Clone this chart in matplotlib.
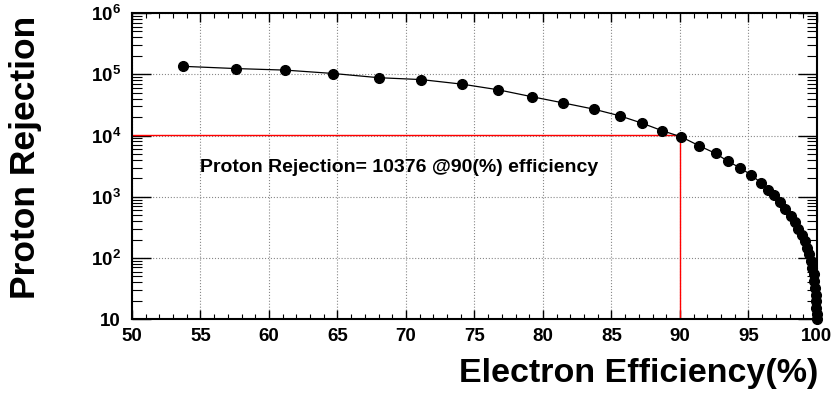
import numpy as np
import matplotlib
matplotlib.use('Agg')
import matplotlib.pyplot as plt
from matplotlib.ticker import FixedLocator, MultipleLocator, LogLocator, NullFormatter

# electron efficiency (%) and proton rejection
efficiency = [53.7, 57.6, 61.2, 64.7, 68.0, 71.1, 74.1, 76.7, 79.2, 81.5,
              83.7, 85.6, 87.2, 88.7, 90.1, 91.4, 92.6, 93.5, 94.4, 95.2,
              95.9, 96.4, 96.9, 97.3, 97.7, 98.1, 98.4, 98.65, 98.9, 99.1,
              99.3, 99.4, 99.56, 99.66, 99.76, 99.82, 99.87, 99.91, 99.94,
              99.96, 99.98, 100.0]
rejection = [1.35e5, 1.24e5, 1.17e5, 1.03e5, 8.8e4, 8.2e4, 6.9e4, 5.6e4,
             4.3e4, 3.4e4, 2.7e4, 2.1e4, 1.6e4, 1.2e4, 9.5e3, 6.8e3, 5.1e3,
             3.8e3, 2.95e3, 2.27e3, 1.70e3, 1.30e3, 1.05e3, 807, 620, 493,
             389, 302, 238, 190, 148, 115, 89, 69, 54, 42, 32, 25, 19.7,
             15.4, 12, 10]

cut_eff = 90
cut_rej = 10376
note = "Proton Rejection= %d @%d(%%) efficiency" % (cut_rej, cut_eff)

x_ticks = [50, 55, 60, 65, 70, 75, 80, 85, 90, 95, 100]
y_ticks = [10, 1e2, 1e3, 1e4, 1e5, 1e6]
y_labels = ['10', r'$\mathbf{10^{2}}$', r'$\mathbf{10^{3}}$',
            r'$\mathbf{10^{4}}$', r'$\mathbf{10^{5}}$', r'$\mathbf{10^{6}}$']

plt.rcParams['font.family'] = ['Liberation Sans', 'DejaVu Sans']
plt.rcParams['font.weight'] = 'bold'
plt.rcParams['mathtext.fontset'] = 'custom'
plt.rcParams['mathtext.rm'] = 'Liberation Sans:bold'
plt.rcParams['mathtext.bf'] = 'Liberation Sans:bold'

fig = plt.figure(figsize=(8.37, 3.96), dpi=100)
ax = fig.add_axes([0.1577, 0.194, 0.8183, 0.773])

ax.plot(efficiency, rejection, color='black', lw=0.9, marker='o',
        markersize=7, clip_on=False, zorder=3)

# working point lines
ax.plot([50, cut_eff], [cut_rej, cut_rej], color='red', lw=1.0, zorder=2)
ax.plot([cut_eff, cut_eff], [10, cut_rej], color='red', lw=1.0, zorder=2)

ax.text(55.0, 3.0e3, note, fontsize=14, fontweight='bold', va='center', ha='left')

ax.set_xlim(50, 100)
ax.set_yscale('log')
ax.set_ylim(10, 1e6)

ax.xaxis.set_major_locator(FixedLocator(x_ticks))
ax.xaxis.set_minor_locator(MultipleLocator(1))
ax.yaxis.set_major_locator(FixedLocator(y_ticks))
ax.set_yticklabels(y_labels)
ax.yaxis.set_minor_locator(LogLocator(base=10, subs=np.arange(2, 10)))
ax.yaxis.set_minor_formatter(NullFormatter())

ax.tick_params(axis='x', which='major', direction='in', length=6.5, width=1.0,
               top=True, labelsize=13.5, pad=6)
ax.tick_params(axis='x', which='minor', direction='in', length=3.5, width=0.8, top=True)
ax.tick_params(axis='y', which='major', direction='in', length=14, width=1.0,
               right=True, labelsize=13.5, pad=8)
ax.tick_params(axis='y', which='minor', direction='in', length=7, width=0.8, right=True)

ax.grid(True, which='major', color='#888888', linestyle=':', linewidth=0.8)
for s in ax.spines.values():
    s.set_linewidth(1.5)

fig.text(26 / 837, 1 - 157 / 396, 'Proton Rejection', rotation=90, fontsize=25.5,
         fontweight='bold', ha='center', va='center')
fig.text(818 / 837, 1 - 382 / 396, 'Electron Efficiency(%)', fontsize=24.5,
         fontweight='bold', ha='right', va='baseline')

fig.savefig('out.png', dpi=100)
